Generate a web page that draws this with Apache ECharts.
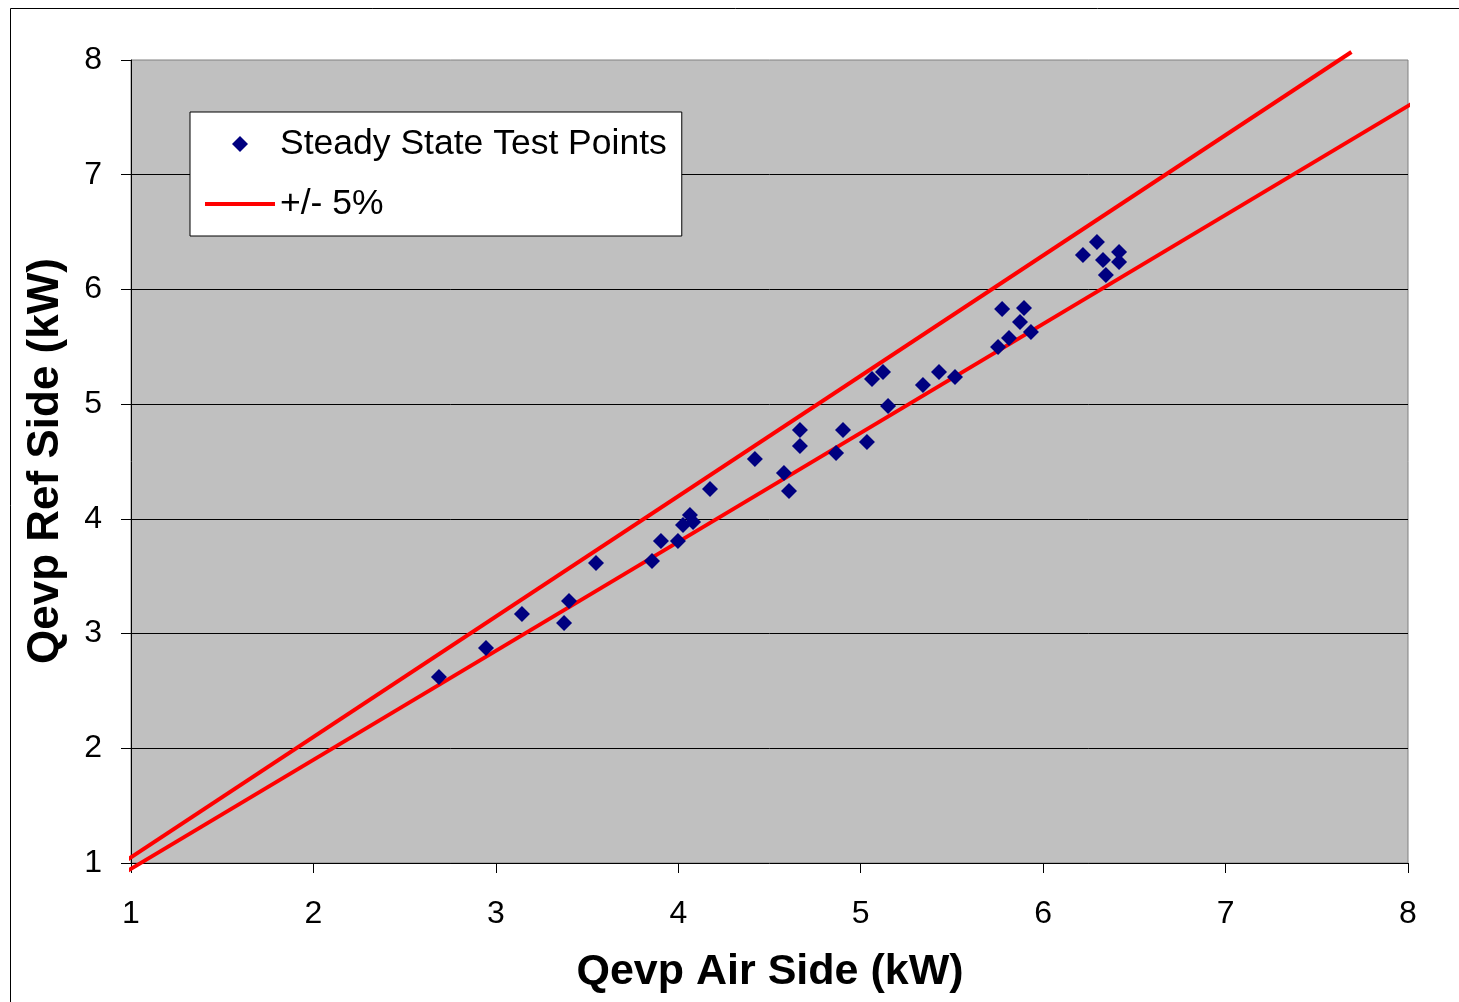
<!DOCTYPE html>
<html>
<head>
<meta charset="utf-8">
<script src="https://cdn.jsdelivr.net/npm/echarts@6/dist/echarts.min.js"></script>
<style>
html,body{margin:0;padding:0;background:#fff;}
#chart{width:1459px;height:1002px;}
</style>
</head>
<body>
<div id="chart"></div>
<script>
// Data
const airSide = [2.688, 2.946, 3.143, 3.374, 3.401, 3.549, 3.856, 3.905, 3.998, 4.026,
  4.064, 4.081, 4.174, 4.420, 4.579, 4.607, 4.667, 4.667, 4.865, 4.903,
  5.034, 5.062, 5.122, 5.150, 5.341, 5.429, 5.517, 5.753, 5.813, 5.933,
  5.873, 5.895, 5.775, 6.218, 6.295, 6.328, 6.416, 6.416, 6.344];
const refSide = [2.621, 2.874, 3.170, 3.092, 3.284, 3.615, 3.633, 3.807, 3.807, 3.946,
  4.033, 3.972, 4.260, 4.522, 4.400, 4.243, 4.774, 4.635, 4.574, 4.774,
  4.670, 5.219, 5.280, 4.984, 5.167, 5.280, 5.237, 5.498, 5.577, 5.629,
  5.716, 5.838, 5.829, 6.300, 6.413, 6.256, 6.326, 6.239, 6.126];
const upperX = [0.967, 7.69];
const upperY = [1.015, 8.07];
const lowerX = [0.973, 8.055];
const lowerY = [0.924, 7.652];
const tickValues = [1, 2, 3, 4, 5, 6, 7, 8];
const seriesNames = ['Steady State Test Points', '+/- 5%'];
const xTitle = 'Qevp Air Side (kW)';
const yTitle = 'Qevp Ref Side (kW)';

const FONT = '"Liberation Sans", Arial, sans-serif';
const chart = echarts.init(document.getElementById('chart'), null, {renderer: 'canvas'});

const pts = airSide.map((x, i) => [x, refSide[i]]);
const up = upperX.map((x, i) => [x, upperY[i]]);
const lo = lowerX.map((x, i) => [x, lowerY[i]]);

// legend icons sized to the full 70x16 icon box so they are not distorted
const diamondIcon = 'path://M0,0M70,16M35,0L43,8L35,16L27,8Z';
const lineIcon = 'path://M0,0M70,16M0,6L70,6L70,10L0,10Z';

const axisCommon = {
  type: 'value',
  min: tickValues[0],
  max: tickValues[tickValues.length - 1],
  interval: 1,
  axisLine: {show: true, onZero: false, lineStyle: {color: '#000', width: 1}},
  axisTick: {show: true, inside: false, length: 10, lineStyle: {color: '#000', width: 1}},
  axisLabel: {color: '#000', fontSize: 32, fontFamily: FONT}
};

chart.setOption({
  animation: false,
  backgroundColor: '#fff',
  grid: {
    left: 131, top: 60, right: 51, bottom: 139,
    containLabel: false,
    show: true,
    backgroundColor: '#C0C0C0',
    borderColor: '#808080',
    borderWidth: 1
  },
  xAxis: Object.assign({}, axisCommon, {
    axisLabel: Object.assign({}, axisCommon.axisLabel, {margin: 35}),
    splitLine: {show: false}
  }),
  yAxis: Object.assign({}, axisCommon, {
    axisLabel: Object.assign({}, axisCommon.axisLabel, {margin: 29}),
    splitLine: {show: true, showMinLine: false, showMaxLine: false, lineStyle: {color: '#000', width: 1}}
  }),
  legend: {
    left: 190, top: 112,
    orient: 'vertical',
    data: [
      {name: seriesNames[0], icon: diamondIcon, itemStyle: {color: '#000080', opacity: 1}},
      {name: seriesNames[1], icon: lineIcon, itemStyle: {color: '#FF0000', opacity: 1}}
    ],
    backgroundColor: '#fff',
    borderColor: '#000',
    borderWidth: 1,
    padding: [12, 15, 12, 15],
    itemWidth: 70,
    itemHeight: 16,
    itemGap: 20,
    itemTextGap: 10,
    textStyle: {color: '#000', fontSize: 35.5, fontFamily: FONT, lineHeight: 40}
  },
  series: [
    {
      name: seriesNames[0],
      type: 'scatter',
      data: pts,
      symbol: 'diamond',
      symbolSize: 16,
      itemStyle: {color: '#000080', opacity: 1},
      z: 4
    },
    {
      name: seriesNames[1],
      type: 'line',
      data: up,
      showSymbol: false,
      symbol: 'none',
      clip: false,
      lineStyle: {color: '#FF0000', width: 4},
      itemStyle: {color: '#FF0000'},
      z: 3
    },
    {
      name: seriesNames[1],
      type: 'line',
      data: lo,
      showSymbol: false,
      symbol: 'none',
      clip: false,
      lineStyle: {color: '#FF0000', width: 4},
      itemStyle: {color: '#FF0000'},
      z: 3
    }
  ],
  graphic: [
    {
      type: 'rect',
      shape: {x: 10.5, y: 8.5, width: 1500, height: 1100},
      style: {fill: 'none', stroke: '#000', lineWidth: 1},
      silent: true, z: 100
    },
    {
      type: 'text',
      x: 770, y: 972,
      style: {text: xTitle, font: 'bold 43px ' + FONT, fill: '#000', textAlign: 'center', textVerticalAlign: 'middle'}
    },
    {
      type: 'text',
      x: 46, y: 461,
      rotation: Math.PI / 2,
      style: {text: yTitle, font: 'bold 44px ' + FONT, fill: '#000', textAlign: 'center', textVerticalAlign: 'middle'}
    }
  ]
});
</script>
</body>
</html>
